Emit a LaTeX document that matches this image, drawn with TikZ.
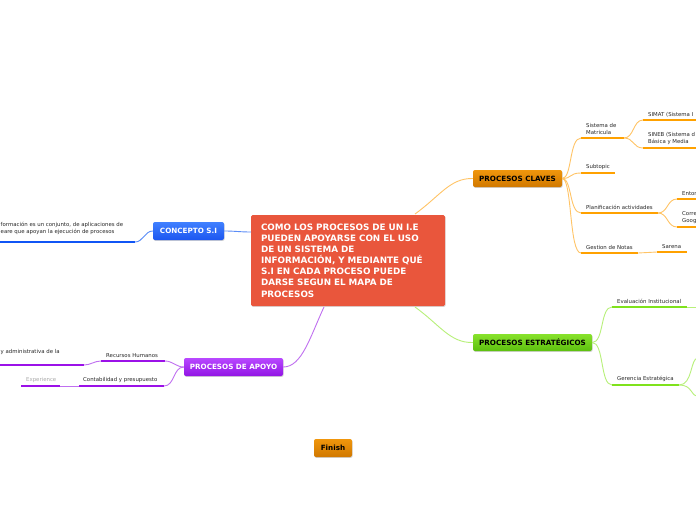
\documentclass[tikz,border=0pt]{standalone}
\usepackage{fontspec}
\setmainfont{DejaVu Sans}
\usetikzlibrary{shadows}
\definecolor{redc}{RGB}{233,86,60}
\definecolor{bluetop}{RGB}{64,128,255}
\definecolor{bluebot}{RGB}{28,86,240}
\definecolor{purtop}{RGB}{184,72,255}
\definecolor{purbot}{RGB}{146,20,228}
\definecolor{ortop}{RGB}{240,150,12}
\definecolor{orbot}{RGB}{208,120,0}
\definecolor{grtop}{RGB}{136,226,44}
\definecolor{grbot}{RGB}{92,192,14}
\definecolor{orthick}{RGB}{255,161,0}
\definecolor{orthin}{RGB}{255,196,102}
\definecolor{blthick}{RGB}{16,85,245}
\definecolor{blthin}{RGB}{91,141,247}
\definecolor{puthick}{RGB}{155,17,232}
\definecolor{puthin}{RGB}{192,112,240}
\definecolor{grthick}{RGB}{127,226,28}
\definecolor{grthin}{RGB}{184,240,122}
\definecolor{txt}{RGB}{40,40,40}
\definecolor{faint}{RGB}{170,170,170}
\tikzset{
  topic/.style={rounded corners=2pt, inner sep=0pt, font=\bfseries\fontsize{7.2}{8.6}\selectfont,
    drop shadow={opacity=0.35,shadow xshift=0.6pt,shadow yshift=-0.9pt}},
  lbl/.style={font=\fontsize{5.4}{7.4}\selectfont, text=txt, inner sep=0pt, anchor=south west, align=left},
  othick/.style={draw=orthick, line width=2.6pt},
  othin/.style={draw=orthin, line width=0.9pt},
  bthick/.style={draw=blthick, line width=2.6pt},
  bthin/.style={draw=blthin, line width=0.9pt},
  pthick/.style={draw=puthick, line width=2.6pt},
  pthin/.style={draw=puthin, line width=0.9pt},
  gthick/.style={draw=grthick, line width=2.6pt},
  gthin/.style={draw=grthin, line width=0.9pt},
}
\begin{document}
\begin{tikzpicture}[x=1pt,y=-1pt]
\useasboundingbox[fill=white] (0,0) rectangle (696,520);

% central topic
\node[rounded corners=1.5pt, fill=redc, text=white, font=\bfseries\fontsize{8.8}{11.1}\selectfont,
  minimum width=194pt, minimum height=91pt, text width=174pt, align=left, inner xsep=10pt,
  drop shadow={opacity=0.3,shadow xshift=0.6pt,shadow yshift=-0.9pt}] (central) at (348,260.5)
  {\raisebox{-1.5pt}{\parbox{174pt}{COMO LOS PROCESOS DE UN I.E\\PUEDEN APOYARSE CON EL USO\\DE UN SISTEMA DE\\INFORMACIÓN, Y MEDIANTE QUÉ\\S.I EN CADA PROCESO PUEDE\\DARSE SEGUN EL MAPA DE\\PROCESOS}}};

% main topics
\node[topic, top color=bluetop, bottom color=bluebot, text=white, minimum width=71pt, minimum height=18pt] (concepto) at (188.5,231) {CONCEPTO S.I};
\node[topic, top color=purtop, bottom color=purbot, text=white, minimum width=99pt, minimum height=18pt] (apoyo) at (233.5,367) {PROCESOS DE APOYO};
\node[topic, top color=ortop, bottom color=orbot, text=black, minimum width=89pt, minimum height=17pt] (claves) at (517.5,178.5) {PROCESOS CLAVES};
\node[topic, top color=grtop, bottom color=grbot, text=black, minimum width=119pt, minimum height=17pt] (estrat) at (532.5,342.5) {PROCESOS ESTRATÉGICOS};
\node[topic, top color=ortop, bottom color=orbot, text=black, minimum width=38pt, minimum height=18pt] (finish) at (333,448) {Finish};

% anchor coordinates on central topic
\coordinate (cW) at (251,232);
\coordinate (cNE) at (415,214);
\coordinate (cSE) at (415,307);
\coordinate (cS) at (324,307);

% central connectors
\draw[bthin] (cW) .. controls (240,232) and (235,231) .. (concepto.east);
\draw[othin] (cNE) .. controls (440,196) and (450,178) .. (claves.west);
\draw[gthin] (cSE) .. controls (440,325) and (450,343) .. (estrat.west);
\draw[pthin] (cS) .. controls (310,337) and (302,367) .. (apoyo.east);

% ---- CONCEPTO S.I branch
\coordinate (defL) at (-2,242); \coordinate (defR) at (135,242);
\draw[bthick] (defL) -- (defR);
\draw[bthin] (concepto.west) to[out=180,in=0] (defR);
\node[lbl] (deftxt) at (0.5,235) {formación es un conjunto, de aplicaciones de\\eare que apoyan la ejecución de procesos};

% ---- PROCESOS DE APOYO branch
\coordinate (rhL) at (101,361); \coordinate (rhR) at (165,361);
\coordinate (coL) at (79,386); \coordinate (coR) at (164,386);
\coordinate (adL) at (-2,365); \coordinate (adR) at (84,365);
\coordinate (exL) at (21,386); \coordinate (exR) at (60,386);
\draw[pthick] (rhL) -- (rhR);
\draw[pthick] (coL) -- (coR);
\draw[pthick] (adL) -- (adR);
\draw[pthick] (exL) -- (exR);
\draw[pthin] (apoyo.west) to[out=180,in=0] (rhR);
\draw[pthin] (apoyo.west) to[out=180,in=0] (coR);
\draw[pthin] (rhL) to[out=180,in=0] (adR);
\draw[pthin] (coL) -- (exR);
\node[lbl] (rhtxt) at (106,358) {Recursos Humanos};
\node[lbl] (cotxt) at (83,383) {Contabilidad y presupuesto};
\node[lbl] (adtxt) at (0.5,355) {y administrativa de la};
\node[lbl, text=faint] (extxt) at (26,383) {Experience};

% ---- PROCESOS CLAVES branch
\coordinate (smL) at (581,138); \coordinate (smR) at (624,138);
\coordinate (stL) at (581,173); \coordinate (stR) at (615,173);
\coordinate (plL) at (581,213); \coordinate (plR) at (658,213);
\coordinate (gnL) at (581,253); \coordinate (gnR) at (638,253);
\coordinate (siL) at (643,120); \coordinate (siR) at (698,120);
\coordinate (snL) at (643,148); \coordinate (snR) at (698,148);
\coordinate (enL) at (677,199); \coordinate (enR) at (698,199);
\coordinate (crL) at (677,227); \coordinate (crR) at (698,227);
\coordinate (saL) at (657,252); \coordinate (saR) at (687,252);
\foreach \a/\b in {smL/smR,stL/stR,plL/plR,gnL/gnR,siL/siR,snL/snR,enL/enR,crL/crR,saL/saR}
  \draw[othick] (\a) -- (\b);
\foreach \t in {smL,stL,plL,gnL}
  \draw[othin] (claves.east) .. controls +(10,0) and +(-12,0) .. (\t);
\foreach \t in {siL,snL}
  \draw[othin] (smR) .. controls +(10,0) and +(-10,0) .. (\t);
\foreach \t in {enL,crL}
  \draw[othin] (plR) .. controls +(10,0) and +(-10,0) .. (\t);
\draw[othin] (gnR) -- (saL);
\node[lbl] (smtxt) at (586,135) {Sistema de\\Matricula};
\node[lbl] (sttxt) at (586,170) {Subtopic};
\node[lbl] (pltxt) at (586,210) {Planificación actividades};
\node[lbl] (gntxt) at (586,250) {Gestion de Notas};
\node[lbl] (sitxt) at (648,117) {SIMAT (Sistema I};
\node[lbl] (sntxt) at (648,145) {SINEB (Sistema d\\Básica y Media};
\node[lbl] (entxt) at (682,196) {Entor};
\node[lbl] (crtxt) at (682,224) {Corre\\Goog};
\node[lbl] (satxt) at (662,249) {Sarena};

% ---- PROCESOS ESTRATÉGICOS branch
\coordinate (evL) at (612,307); \coordinate (evR) at (687,307);
\coordinate (geL) at (612,385); \coordinate (geR) at (679,385);
\coordinate (evX) at (698,307);
\coordinate (geU) at (698,358); \coordinate (geD) at (698,396);
\draw[gthick] (evL) -- (evR);
\draw[gthick] (geL) -- (geR);
\draw[gthin] (estrat.east) .. controls +(12,0) and +(-12,0) .. (evL);
\draw[gthin] (estrat.east) .. controls +(12,0) and +(-12,0) .. (geL);
\draw[gthin] (evR) -- (evX);
\draw[gthin] (geR) .. controls +(14,0) and +(-8,0) .. (geU);
\draw[gthin] (geR) .. controls +(14,0) and +(-8,0) .. (geD);
\node[lbl] (evtxt) at (617,304) {Evaluación Institucional};
\node[lbl] (getxt) at (617,382) {Gerencia Estratégica};
\end{tikzpicture}
\end{document}
